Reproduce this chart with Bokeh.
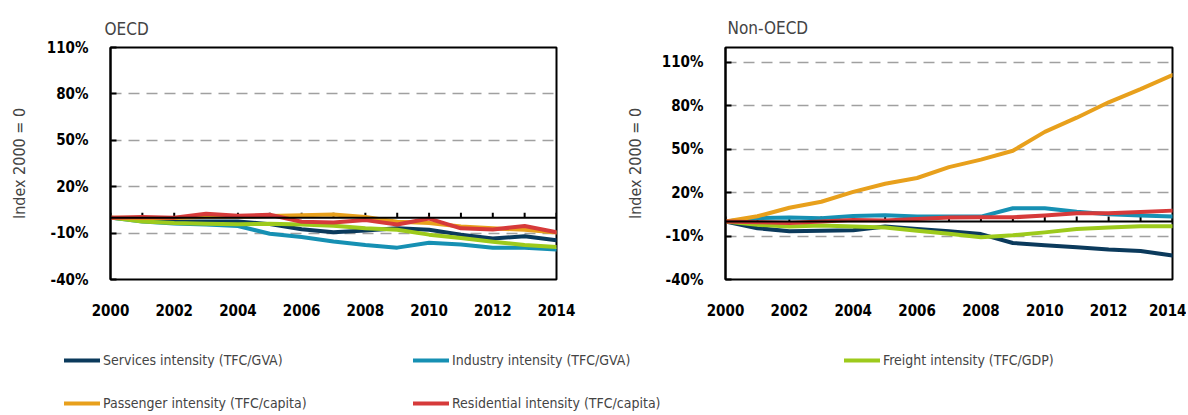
from bokeh.plotting import figure
from bokeh.models import Range1d, FixedTicker, Span, Legend, LegendItem
from bokeh.layouts import column, row
from bokeh.embed import file_html
from bokeh.resources import INLINE

# ---------------- data ----------------
years = list(range(2000, 2015))
x_tick_years = [2000, 2002, 2004, 2006, 2008, 2010, 2012, 2014]
y_ticks = [-40, -10, 20, 50, 80, 110]

series_names = [
    "Services intensity (TFC/GVA)",
    "Industry intensity (TFC/GVA)",
    "Freight intensity (TFC/GDP)",
    "Passenger intensity (TFC/capita)",
    "Residential intensity (TFC/capita)",
]

services_oecd = [0, -1.5, -2.5, -2.5, -2.5, -4.2, -7.5, -9.4, -8.3, -6.9, -7.9, -11, -13.5, -12, -14.6]
industry_oecd = [0, -2.5, -3.8, -4.4, -5.4, -10.4, -12.5, -15.4, -17.7, -19.4, -16.3, -17.3, -19.4, -19.4, -20.6]
freight_oecd = [0, -2.5, -3.5, -4, -4.3, -4, -4.5, -5.2, -6.9, -7.9, -11, -13.1, -15.6, -17.7, -19]
passenger_oecd = [0, -0.3, -0.3, 0.5, 0.5, 1, 1.5, 2, 0.4, -2.7, -3.5, -5.8, -6.9, -7.9, -9.6]
residential_oecd = [0, 0.4, 0, 2.5, 1.2, 1.9, -2.7, -3.1, -1.6, -4.4, -0.6, -6.9, -7.7, -5.4, -9.4]

services_non = [0, -4.6, -6.8, -6.4, -6.1, -3.4, -5.2, -6.8, -8.7, -14.8, -16.4, -17.7, -19.3, -20.4, -23.4]
industry_non = [0, 2.3, 2.7, 2.3, 3.8, 4.3, 3.4, 3.4, 3.4, 9.1, 9.1, 6.8, 5, 4.1, 3.4]
freight_non = [0, -2.3, -3.4, -2.7, -3.4, -4.1, -6.4, -8.4, -10.9, -9.5, -7.5, -5.2, -4.1, -3.2, -3.2]
passenger_non = [0, 3.6, 9.5, 13.6, 20.4, 26, 30, 37.5, 42.7, 48.8, 61.8, 71.6, 82.2, 91.3, 101]
residential_non = [0, -0.5, -1, 0, 1, 0.7, 1.8, 2.7, 2.9, 2.9, 4.1, 5.7, 5.7, 6.5, 7.5]

colors = ["#0b3a5c", "#1690b3", "#9dca1c", "#e8a01c", "#d63a3a"]

FONT = "DejaVu Sans Condensed"


def make_panel(title, ymax, width, mbl, mbr, mbt, mbb, title_offset, title_standoff,
               label_standoff, series):
    p = figure(width=width, height=330,
               x_range=Range1d(2000, 2014), y_range=Range1d(-40, ymax),
               output_backend="svg", toolbar_location=None,
               min_border_left=mbl, min_border_right=mbr,
               min_border_top=mbt, min_border_bottom=mbb,
               title=title)
    p.title.text_font = FONT
    p.title.text_font_size = "17px"
    p.title.text_font_style = "normal"
    p.title.offset = title_offset
    p.title.standoff = title_standoff
    p.outline_line_color = "black"
    p.outline_line_width = 2
    p.outline_line_alpha = 1

    # y axis
    p.yaxis.ticker = FixedTicker(ticks=y_ticks)
    p.yaxis.major_label_overrides = {t: f"{t}%" for t in y_ticks}
    p.yaxis.major_tick_in = 6
    p.yaxis.major_tick_out = 0
    p.yaxis.major_tick_line_width = 2
    p.yaxis.minor_tick_line_color = None
    p.yaxis.axis_line_width = 2
    p.yaxis.major_label_standoff = 22
    p.yaxis.major_label_text_font = FONT
    p.yaxis.major_label_text_font_size = "15px"
    p.yaxis.major_label_text_font_style = "bold"
    p.yaxis.major_label_text_color = "black"
    p.yaxis.axis_label = "Index 2000 = 0"
    p.yaxis.axis_label_text_font = FONT
    p.yaxis.axis_label_text_font_size = "16px"
    p.yaxis.axis_label_text_font_style = "normal"
    p.yaxis.axis_label_standoff = label_standoff

    # x axis
    p.xaxis.ticker = FixedTicker(ticks=x_tick_years)
    p.xaxis.axis_line_color = None
    p.xaxis.major_tick_line_color = None
    p.xaxis.minor_tick_line_color = None
    p.xaxis.major_label_standoff = 18
    p.xaxis.major_label_text_font = FONT
    p.xaxis.major_label_text_font_size = "15px"
    p.xaxis.major_label_text_font_style = "bold"
    p.xaxis.major_label_text_color = "black"

    # grid
    p.xgrid.visible = False
    p.ygrid.ticker = FixedTicker(ticks=y_ticks)
    p.ygrid.grid_line_color = "#a0a0a0"
    p.ygrid.grid_line_width = 1.5
    p.ygrid.grid_line_dash = "11 7"

    # zero line with yearly tick marks
    p.add_layout(Span(location=0, dimension="width", line_color="black", line_width=2))
    tick_len = 5 * (ymax + 40) / 237.0
    p.segment(x0=years, y0=[0] * len(years), x1=years, y1=[tick_len] * len(years),
              line_color="black", line_width=2)

    for vals, c in zip(series, colors):
        p.line(years, vals, line_color=c, line_width=4, line_join="round", line_cap="round")
    return p


p1 = make_panel("OECD", 110, 600, 110, 44, 42, 51, -6, 17, 15,
                [services_oecd, industry_oecd, freight_oecd, passenger_oecd, residential_oecd])
p2 = make_panel("Non-OECD", 120, 586, 125, 14, 47, 47, 2, 19, 14,
                [services_non, industry_non, freight_non, passenger_non, residential_non])

# legend panel
p3 = figure(width=1186, height=83, x_range=Range1d(0, 1), y_range=Range1d(0, 1),
            output_backend="svg", toolbar_location=None,
            min_border_left=0, min_border_right=0, min_border_top=0, min_border_bottom=0)
p3.axis.visible = False
p3.grid.visible = False
p3.outline_line_color = None

rs = [p3.line(x=[-10, -9], y=[-10, -10], line_color=c, line_width=4, line_cap="round")
      for c in colors]


def mk_legend(idx, loc):
    lg = Legend(items=[LegendItem(label=series_names[i], renderers=[rs[i]]) for i in idx],
                location=loc, orientation="vertical", padding=0, margin=0, spacing=23,
                glyph_width=36, glyph_height=20, label_height=20, label_standoff=3,
                border_line_color=None, background_fill_alpha=0,
                label_text_font=FONT, label_text_font_size="14px")
    return lg


p3.add_layout(mk_legend([0, 3], (64, 0)))
p3.add_layout(mk_legend([1, 4], (413, 0)))
p3.add_layout(mk_legend([2], (844, 43)))

layout = column(row(p1, p2, spacing=0), p3, spacing=0)
open("out.html", "w").write(file_html(layout, INLINE))
